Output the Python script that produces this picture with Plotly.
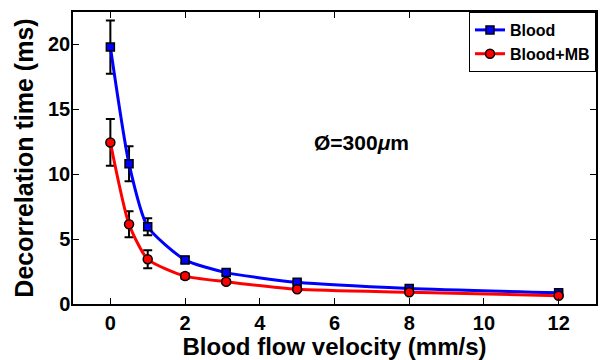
import plotly.graph_objects as go

velocity_blood = [0, 0.5, 1, 2, 3.1, 5, 8, 12]
blood = [19.8, 10.8, 5.95, 3.4, 2.42, 1.67, 1.2, 0.87]
blood_err = [2.05, 1.35, 0.65, 0.25, 0.2, 0.12, 0.1, 0.1]

velocity_mb = [0, 0.5, 1, 2, 3.1, 5, 8, 12]
blood_mb = [12.45, 6.15, 3.45, 2.15, 1.72, 1.13, 0.9, 0.64]
blood_mb_err = [1.8, 1.0, 0.7, 0.2, 0.15, 0.1, 0.08, 0.08]

x_ticks = [0, 2, 4, 6, 8, 10, 12]
y_ticks = [0, 5, 10, 15, 20]

FONT = "Liberation Sans, Arial, sans-serif"

fig = go.Figure()
fig.add_trace(go.Scatter(
    x=velocity_blood, y=blood, name="<b>Blood</b>", mode="lines+markers",
    line=dict(color="#0000ff", width=3, shape="spline", smoothing=0.6),
    marker=dict(symbol="square", size=8, color="#0000ff", line=dict(color="black", width=1.5)),
    error_y=dict(type="data", array=blood_err, color="black", thickness=2, width=4.5),
))
fig.add_trace(go.Scatter(
    x=velocity_mb, y=blood_mb, name="<b>Blood+MB</b>", mode="lines+markers",
    line=dict(color="#ff0000", width=3, shape="spline", smoothing=0.6),
    marker=dict(symbol="circle", size=9, color="#ff0000", line=dict(color="black", width=1.5)),
    error_y=dict(type="data", array=blood_mb_err, color="black", thickness=2, width=4.5),
))

fig.add_annotation(x=6.73, y=12.46, xref="x", yref="y", text="<b>Ø=300<i>μ</i>m</b>",
                   showarrow=False, font=dict(family=FONT, size=21, color="black"))

axis_common = dict(showline=True, linecolor="black", linewidth=1.5, mirror="ticks",
                   ticks="inside", ticklen=6, tickwidth=1, tickcolor="black",
                   showgrid=False, zeroline=False,
                   tickfont=dict(family=FONT, size=20, color="black"))

fig.update_layout(
    width=600, height=360,
    margin=dict(l=73, r=2, t=12, b=56),
    paper_bgcolor="white", plot_bgcolor="white",
    font=dict(family=FONT, color="black"),
    xaxis=dict(range=[-1, 13], tickvals=x_ticks,
               ticktext=["<b>%d</b>" % v for v in x_ticks],
               title=dict(text="<b>Blood flow velocity (mm/s)</b>", font=dict(family=FONT, size=24), standoff=2),
               **axis_common),
    yaxis=dict(range=[0, 22.5], tickvals=y_ticks,
               ticktext=["<b>%d</b>" % v for v in y_ticks],
               ticklabelstandoff=-3,
               title=dict(text="<b>Decorrelation time (ms)</b>", font=dict(family=FONT, size=25), standoff=7),
               **axis_common),
    legend=dict(x=1, y=1, xanchor="right", yanchor="top",
                bordercolor="black", borderwidth=1, bgcolor="white",
                font=dict(family=FONT, size=16, color="black"),
                itemwidth=30, tracegroupgap=0),
    showlegend=True,
)

fig.write_html("out.html")
